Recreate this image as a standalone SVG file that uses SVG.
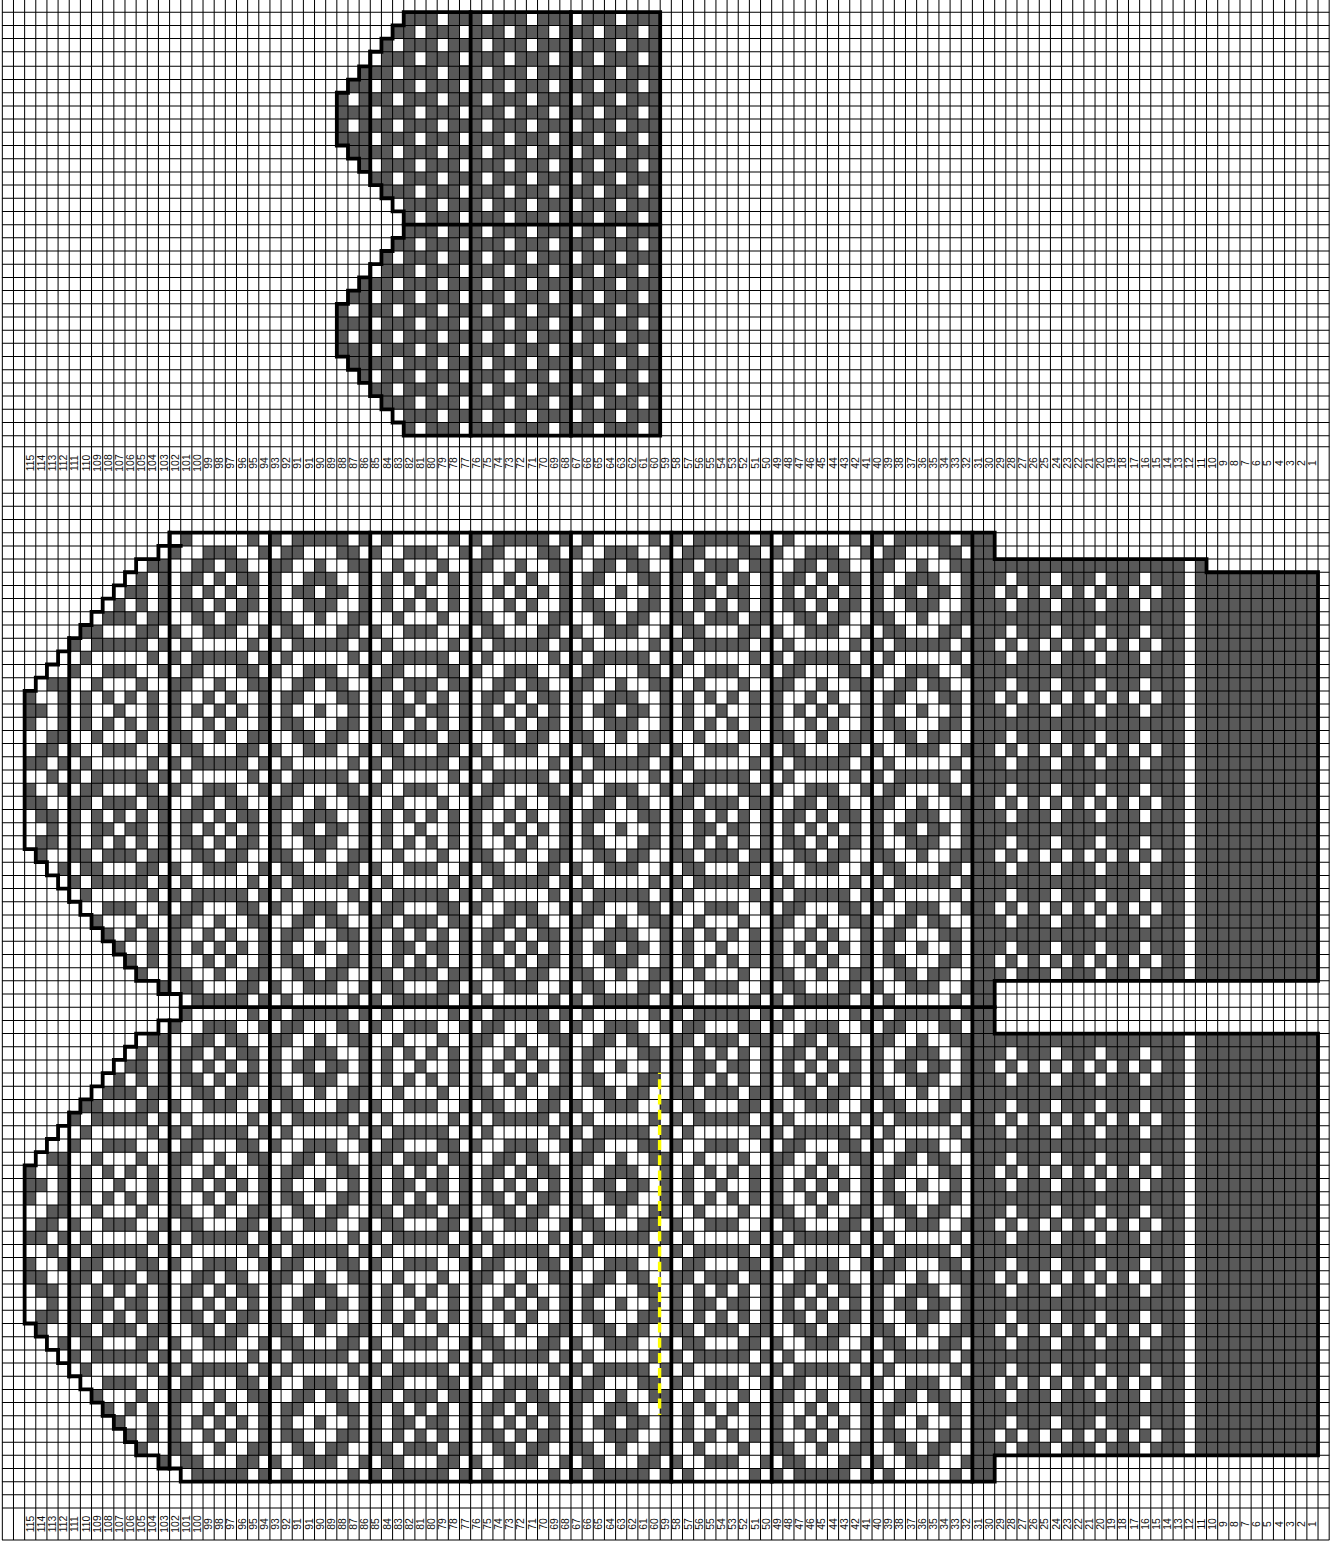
<svg xmlns="http://www.w3.org/2000/svg" width="1331" height="1543" viewBox="0 0 1331 1543">
<style>
.d{fill:none;stroke:#595959;stroke-width:1}
.f{fill:#595959;stroke:none}
.w{fill:none;stroke:#fff;stroke-width:1}
.dash4{stroke-dasharray:1 3}
.dash2{stroke-dasharray:1 1}
.gv{fill:none;stroke:#000;stroke-width:1540;stroke-dasharray:1 10.15}
.gh{fill:none;stroke:#000;stroke-width:1327.4;stroke-dasharray:1 12.18}
.gt{fill:none;stroke:#000;stroke-width:1327.4;stroke-dasharray:1 12.19}
.thick{fill:none;stroke:#000;stroke-width:3.8;stroke-linejoin:miter;stroke-linecap:square}
.ns{vector-effect:non-scaling-stroke}
.lab text{font-family:"Liberation Sans",Arial,sans-serif;font-size:10.4px;fill:#111;text-anchor:middle}
</style>
<defs>
<path id="a1" d="M1 .5h1M7 .5h1M0 1.5h1M3 1.5h3M8 1.5h1M2 2.5h2M5 2.5h2M1 3.5h2M4 3.5h1M6 3.5h2M1 4.5h1M3 4.5h1M5 4.5h1M7 4.5h1M1 5.5h2M4 5.5h1M6 5.5h2M2 6.5h2M5 6.5h2M0 7.5h1M3 7.5h3M8 7.5h1M1 8.5h1M7 8.5h1"/>
<path id="b1" d="M0 .5h1M2 .5h5M8 .5h1M1 1.5h2M6 1.5h2M0 2.5h2M4 2.5h1M7 2.5h2M0 3.5h1M3 3.5h1M5 3.5h1M8 3.5h1M0 4.5h1M2 4.5h1M4 4.5h1M6 4.5h1M8 4.5h1M0 5.5h1M3 5.5h1M5 5.5h1M8 5.5h1M0 6.5h2M4 6.5h1M7 6.5h2M1 7.5h2M6 7.5h2M0 8.5h1M2 8.5h5M8 8.5h1"/>
<path id="a2" d="M0 .5h1M2 .5h5M8 .5h1M1 1.5h2M6 1.5h2M0 2.5h2M4 2.5h1M7 2.5h2M0 3.5h1M3 3.5h3M8 3.5h1M0 4.5h1M2 4.5h2M5 4.5h2M8 4.5h1M0 5.5h1M3 5.5h3M8 5.5h1M0 6.5h2M4 6.5h1M7 6.5h2M1 7.5h2M6 7.5h2M0 8.5h1M2 8.5h5M8 8.5h1"/>
<path id="b2" d="M1 .5h1M7 .5h1M0 1.5h1M3 1.5h3M8 1.5h1M2 2.5h2M5 2.5h2M1 3.5h2M6 3.5h2M1 4.5h1M4 4.5h1M7 4.5h1M1 5.5h2M6 5.5h2M2 6.5h2M5 6.5h2M0 7.5h1M3 7.5h3M8 7.5h1M1 8.5h1M7 8.5h1"/>
<path id="a3" d="M1 .5h1M7 .5h1M0 1.5h1M3 1.5h3M8 1.5h1M2 2.5h1M6 2.5h1M1 3.5h1M3 3.5h1M5 3.5h1M7 3.5h1M1 4.5h1M4 4.5h1M7 4.5h1M1 5.5h1M3 5.5h1M5 5.5h1M7 5.5h1M2 6.5h1M6 6.5h1M0 7.5h1M3 7.5h3M8 7.5h1M1 8.5h1M7 8.5h1"/>
<path id="b3" d="M0 .5h1M2 .5h5M8 .5h1M1 1.5h2M6 1.5h2M0 2.5h2M3 2.5h3M7 2.5h2M0 3.5h1M2 3.5h1M4 3.5h1M6 3.5h1M8 3.5h1M0 4.5h1M2 4.5h2M5 4.5h2M8 4.5h1M0 5.5h1M2 5.5h1M4 5.5h1M6 5.5h1M8 5.5h1M0 6.5h2M3 6.5h3M7 6.5h2M1 7.5h2M6 7.5h2M0 8.5h1M2 8.5h5M8 8.5h1"/>
<g id="t1"><use href="#a1"/><use href="#b1" y="9"/></g>
<g id="t2"><use href="#a2"/><use href="#b2" y="9"/></g>
<g id="t3"><use href="#a3"/><use href="#b3" y="9"/></g>
<g id="t4"><use href="#b1"/><use href="#a1" y="9"/></g>
<g id="t5"><use href="#b2"/><use href="#a2" y="9"/></g>
<g id="t6"><use href="#b3"/><use href="#a3" y="9"/></g>
<g id="c1"><use href="#t1"/><use href="#t1" y="18"/><use href="#t1" y="36"/><use href="#t1" y="54"/></g>
<g id="c2"><use href="#t2"/><use href="#t2" y="18"/><use href="#t2" y="36"/><use href="#t2" y="54"/></g>
<g id="c3"><use href="#t3"/><use href="#t3" y="18"/><use href="#t3" y="36"/><use href="#t3" y="54"/></g>
<g id="c4"><use href="#t4"/><use href="#t4" y="18"/><use href="#t4" y="36"/><use href="#t4" y="54"/></g>
<g id="c5"><use href="#t5"/><use href="#t5" y="18"/><use href="#t5" y="36"/><use href="#t5" y="54"/></g>
<g id="c6"><use href="#t6"/><use href="#t6" y="18"/><use href="#t6" y="36"/><use href="#t6" y="54"/></g>
<path id="tip" d="M13 2.5h2M12 3.5h1M14 3.5h1M11 4.5h2M14 4.5h1M10 5.5h1M12 5.5h1M14 5.5h1M9 6.5h3M13 6.5h2M7 7.5h2M12 7.5h2M6 8.5h1M8 8.5h5M14 8.5h1M7 9.5h1M13 9.5h1M6 10.5h1M9 10.5h3M14 10.5h1M4 11.5h2M8 11.5h1M12 11.5h1M2 12.5h1M5 12.5h1M7 12.5h1M9 12.5h1M11 12.5h1M13 12.5h1M2 13.5h2M5 13.5h1M7 13.5h1M10 13.5h1M13 13.5h1M2 14.5h1M5 14.5h1M7 14.5h1M9 14.5h1M11 14.5h1M13 14.5h1M4 15.5h2M8 15.5h1M12 15.5h1M3 16.5h2M6 16.5h1M9 16.5h3M14 16.5h1M2 17.5h2M5 17.5h1M7 17.5h1M13 17.5h1M4 18.5h1M6 18.5h1M8 18.5h5M14 18.5h1M2 19.5h1M5 19.5h1M7 19.5h2M12 19.5h2M2 20.5h2M6 20.5h2M9 20.5h3M13 20.5h2M3 21.5h2M6 21.5h1M8 21.5h1M10 21.5h1M12 21.5h1M14 21.5h1M4 22.5h1M6 22.5h1M8 22.5h2M11 22.5h2M14 22.5h1M3 23.5h2M6 23.5h1M8 23.5h1M10 23.5h1M12 23.5h1M14 23.5h1M3 24.5h1M6 24.5h2M9 24.5h3M13 24.5h2M5 25.5h1M7 25.5h2M12 25.5h2M6 26.5h1M8 26.5h5M14 26.5h1M7 27.5h1M13 27.5h1M9 28.5h3M14 28.5h1M8 29.5h1M12 29.5h1M9 30.5h1M11 30.5h1M13 30.5h1M10 31.5h1M13 31.5h1M11 32.5h1M13 32.5h1M12 33.5h1M14 34.5h1"/>
<g id="cuffdots"><path class="dash4" d="M90 .5H103M90 2.5H103"/><path class="dash2" d="M89 1.5H104"/></g>
<path id="td0" d="M39 .5H56M37 1.5H58M35 2.5H56M33 3.5H58"/>
<path id="td1" d="M35 4.5H56M33 5.5H58M31 6.5H56M33 7.5H58M31 8.5H56M33 9.5H58M35 10.5H56M33 11.5H58M35 12.5H56M37 13.5H58M35 14.5H56M37 15.5H58"/>
</defs>

<rect width="1331" height="1543" fill="#fff"/>

<g id="upper-chart">
<path class="f" d="M403.73 12.2V25.39H392.58V38.58H381.43V51.77H370.28V66.36H359.13V79.55H347.98V92.74H336.83V145.5H347.98V158.69H359.13V171.88H370.28V185.07H381.43V198.26H392.58V211.45H403.73V237.83H392.58V251.02H381.43V264.21H370.28V277.4H359.13V290.59H347.98V303.78H336.83V356.54H347.98V369.73H359.13V382.92H370.28V396.11H381.43V409.3H392.58V422.49H403.73V435.68H660.18V12.2Z"/>
<g class="w dash4" transform="translate(2.33 12.2) scale(11.15 13.19)"><use href="#td0"/></g>
<g class="w dash4" transform="translate(2.33 13.6) scale(11.15 13.19)"><use href="#td1"/><use href="#td0" y="16"/><use href="#td1" y="16"/></g>
</g>

<g id="main-chart" transform="translate(2.33 480) scale(11.15 13.18)">
<g id="cuff-fill" class="f">
<path d="M87 4H89V76H87Z"/>
<path d="M89 6H106V38H89ZM107 6H108V7H118V38H107Z"/>
<path d="M89 42H106V74H89ZM107 42H118V74H107Z"/>
</g>
<g id="cuff-dots" class="w">
<use href="#cuffdots" y="7"/><use href="#cuffdots" y="11"/><use href="#cuffdots" y="15"/><use href="#cuffdots" y="19"/><use href="#cuffdots" y="23"/><use href="#cuffdots" y="27"/><use href="#cuffdots" y="31"/><use href="#cuffdots" y="35"/>
<use href="#cuffdots" y="43"/><use href="#cuffdots" y="47"/><use href="#cuffdots" y="51"/><use href="#cuffdots" y="55"/><use href="#cuffdots" y="59"/><use href="#cuffdots" y="63"/><use href="#cuffdots" y="67"/><use href="#cuffdots" y="71"/>
</g>
<g id="blocks" class="d">
<use href="#tip" y="4"/><use href="#tip" y="40"/>
<use id="block1" href="#c1" x="15" y="4"/>
<use id="block2" href="#c2" x="24" y="4"/>
<use id="block3" href="#c3" x="33" y="4"/>
<use id="block4" href="#c4" x="42" y="4"/>
<use id="block5" href="#c5" x="51" y="4"/>
<use id="block6" href="#c6" x="60" y="4"/>
<use id="block7" href="#c1" x="69" y="4"/>
<use id="block8" href="#c2" x="78" y="4"/>
</g>
<path class="w" d="M15 39.5h1M15 75.5h1"/>
</g>

<g id="grid">
<path class="gv" d="M1.83 770H1330"/>
<path class="gt" d="M665.65 11.7V52.3"/>
<path class="gt" d="M665.65 65.86V436.3"/>
<path class="gt" d="M665.65 446.2V447.2"/>
<path class="gh" d="M665.65 479.5V1508.6"/>
<path class="gh" d="M665.65 1539.5V1540.5"/>
</g>

<g id="upper-outline" class="thick">
<path d="M403.73 12.2V25.39H392.58V38.58H381.43V51.77H370.28V66.36H359.13V79.55H347.98V92.74H336.83V145.5H347.98V158.69H359.13V171.88H370.28V185.07H381.43V198.26H392.58V211.45H403.73V237.83H392.58V251.02H381.43V264.21H370.28V277.4H359.13V290.59H347.98V303.78H336.83V356.54H347.98V369.73H359.13V382.92H370.28V396.11H381.43V409.3H392.58V422.49H403.73V435.68H660.18V12.2Z"/>
<path d="M370.28 51.77V185.07M370.28 264.21V396.11M470.63 12.2V435.68M570.98 12.2V435.68M403.73 224.64H660.18"/>
</g>

<g id="main-outline" transform="translate(2.33 480) scale(11.15 13.18)">
<path class="thick ns" d="M15 4H89V6H108V7H118V38H89V42H118V74H89V76H16V75H14V74H12V73H11V72H10V71H9V70H8V69H7V68H6V67H5V66H4V65H3V64H2V52H3V51H4V50H5V49H6V48H7V47H8V46H9V45H10V44H11V43H12V42H14V41H16V39H14V38H12V37H11V36H10V35H9V34H8V33H7V32H6V31H5V30H4V29H3V28H2V16H3V15H4V14H5V13H6V12H7V11H8V10H9V9H10V8H11V7H12V6H14V5H16M15 5V4"/>
<path class="thick ns" d="M15 4V39M15 41V75M6 12V32M6 48V68M24 4V76M33 4V76M42 4V76M51 4V76M60 4V76M69 4V76M78 4V76M87 4V76M16 40H89"/>
</g>

<path id="yellow-line" d="M659.6 1072.8V1415" fill="none" stroke="#ffff00" stroke-width="3.4" stroke-dasharray="10 5.2" stroke-dashoffset="8.7"/>

<g id="labels-top" class="lab" transform="translate(0 463) rotate(-90)">
<text y="33.7">115</text><text y="44.9">114</text><text y="56">113</text><text y="67.2">112</text><text y="78.3">111</text><text y="89.5">110</text><text y="100.6">109</text><text y="111.8">108</text><text y="122.9">107</text><text y="134.1">106</text><text y="145.2">105</text><text y="156.4">104</text><text y="167.5">103</text><text y="178.7">102</text><text y="189.8">101</text><text y="201">100</text><text y="212.1">99</text><text y="223.3">98</text><text y="234.4">97</text><text y="245.6">96</text><text y="256.7">95</text><text y="267.9">94</text><text y="279">93</text><text y="290.2">92</text><text y="301.3">91</text><text y="312.5">91</text><text y="323.6">90</text><text y="334.8">89</text><text y="345.9">88</text><text y="357.1">87</text><text y="368.2">86</text><text y="379.4">85</text><text y="390.5">84</text><text y="401.7">83</text><text y="412.8">82</text><text y="424">81</text><text y="435.1">80</text><text y="446.3">79</text><text y="457.4">78</text><text y="468.6">77</text><text y="479.7">76</text><text y="490.9">75</text><text y="502">74</text><text y="513.2">73</text><text y="524.3">72</text><text y="535.5">71</text><text y="546.6">70</text><text y="557.8">69</text><text y="568.9">68</text><text y="580.1">67</text><text y="591.2">66</text><text y="602.4">65</text><text y="613.5">64</text><text y="624.7">63</text><text y="635.8">62</text><text y="647">61</text><text y="658.1">60</text><text y="669.3">59</text><text y="680.4">58</text><text y="691.6">57</text><text y="702.7">56</text><text y="713.9">55</text><text y="725">54</text><text y="736.2">53</text><text y="747.3">52</text><text y="758.5">51</text><text y="769.6">50</text><text y="780.8">49</text><text y="791.9">48</text><text y="803.1">47</text><text y="814.2">46</text><text y="825.4">45</text><text y="836.5">44</text><text y="847.7">43</text><text y="858.8">42</text><text y="870">41</text><text y="881.1">40</text><text y="892.3">39</text><text y="903.4">38</text><text y="914.6">37</text><text y="925.7">36</text><text y="936.9">35</text><text y="948">34</text><text y="959.2">33</text><text y="970.3">32</text><text y="981.5">31</text><text y="992.6">30</text><text y="1003.8">29</text><text y="1014.9">28</text><text y="1026.1">27</text><text y="1037.2">26</text><text y="1048.4">25</text><text y="1059.5">24</text><text y="1070.7">23</text><text y="1081.8">22</text><text y="1093">21</text><text y="1104.1">20</text><text y="1115.3">19</text><text y="1126.4">18</text><text y="1137.6">17</text><text y="1148.7">16</text><text y="1159.9">15</text><text y="1171">14</text><text y="1182.2">13</text><text y="1193.3">12</text><text y="1204.5">11</text><text y="1215.6">10</text><text y="1226.8">9</text><text y="1237.9">8</text><text y="1249.1">7</text><text y="1260.2">6</text><text y="1271.4">5</text><text y="1282.5">4</text><text y="1293.7">3</text><text y="1304.8">2</text><text y="1316">1</text>
</g>
<g id="labels-bottom" class="lab" transform="translate(0 1524) rotate(-90)">
<text y="33.7">115</text><text y="44.9">114</text><text y="56">113</text><text y="67.2">112</text><text y="78.3">111</text><text y="89.5">110</text><text y="100.6">109</text><text y="111.8">108</text><text y="122.9">107</text><text y="134.1">106</text><text y="145.2">105</text><text y="156.4">104</text><text y="167.5">103</text><text y="178.7">102</text><text y="189.8">101</text><text y="201">100</text><text y="212.1">99</text><text y="223.3">98</text><text y="234.4">97</text><text y="245.6">96</text><text y="256.7">95</text><text y="267.9">94</text><text y="279">93</text><text y="290.2">92</text><text y="301.3">91</text><text y="312.5">91</text><text y="323.6">90</text><text y="334.8">89</text><text y="345.9">88</text><text y="357.1">87</text><text y="368.2">86</text><text y="379.4">85</text><text y="390.5">84</text><text y="401.7">83</text><text y="412.8">82</text><text y="424">81</text><text y="435.1">80</text><text y="446.3">79</text><text y="457.4">78</text><text y="468.6">77</text><text y="479.7">76</text><text y="490.9">75</text><text y="502">74</text><text y="513.2">73</text><text y="524.3">72</text><text y="535.5">71</text><text y="546.6">70</text><text y="557.8">69</text><text y="568.9">68</text><text y="580.1">67</text><text y="591.2">66</text><text y="602.4">65</text><text y="613.5">64</text><text y="624.7">63</text><text y="635.8">62</text><text y="647">61</text><text y="658.1">60</text><text y="669.3">59</text><text y="680.4">58</text><text y="691.6">57</text><text y="702.7">56</text><text y="713.9">55</text><text y="725">54</text><text y="736.2">53</text><text y="747.3">52</text><text y="758.5">51</text><text y="769.6">50</text><text y="780.8">49</text><text y="791.9">48</text><text y="803.1">47</text><text y="814.2">46</text><text y="825.4">45</text><text y="836.5">44</text><text y="847.7">43</text><text y="858.8">42</text><text y="870">41</text><text y="881.1">40</text><text y="892.3">39</text><text y="903.4">38</text><text y="914.6">37</text><text y="925.7">36</text><text y="936.9">35</text><text y="948">34</text><text y="959.2">33</text><text y="970.3">32</text><text y="981.5">31</text><text y="992.6">30</text><text y="1003.8">29</text><text y="1014.9">28</text><text y="1026.1">27</text><text y="1037.2">26</text><text y="1048.4">25</text><text y="1059.5">24</text><text y="1070.7">23</text><text y="1081.8">22</text><text y="1093">21</text><text y="1104.1">20</text><text y="1115.3">19</text><text y="1126.4">18</text><text y="1137.6">17</text><text y="1148.7">16</text><text y="1159.9">15</text><text y="1171">14</text><text y="1182.2">13</text><text y="1193.3">12</text><text y="1204.5">11</text><text y="1215.6">10</text><text y="1226.8">9</text><text y="1237.9">8</text><text y="1249.1">7</text><text y="1260.2">6</text><text y="1271.4">5</text><text y="1282.5">4</text><text y="1293.7">3</text><text y="1304.8">2</text><text y="1316">1</text>
</g>
</svg>
